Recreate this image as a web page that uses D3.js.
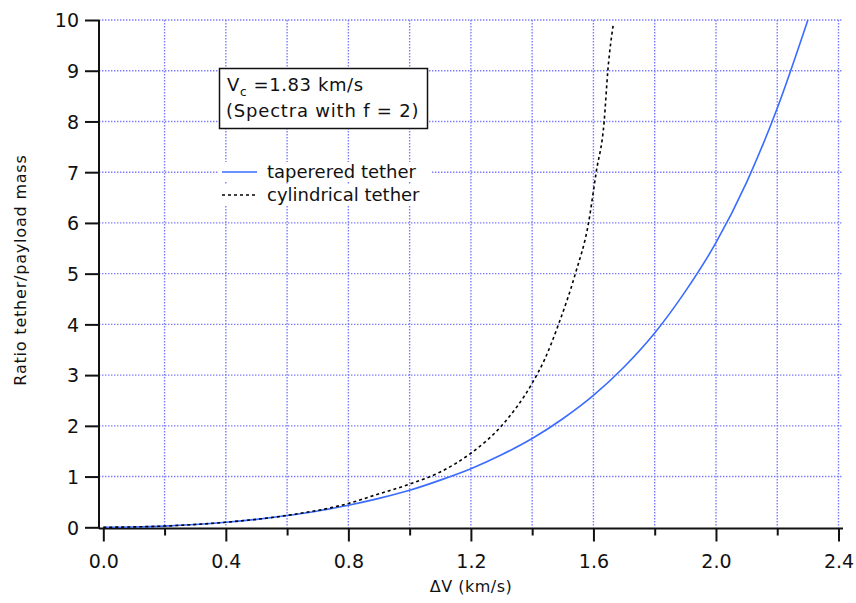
<!DOCTYPE html>
<html>
<head>
<meta charset="utf-8">
<script src="https://cdn.jsdelivr.net/npm/d3@7"></script>
<style>
    body { margin: 0; background: #fff; }
    text { font-family: "DejaVu Sans", sans-serif; fill: #111; }
</style>
</head>
<body>
<script>
// values
const taperedDv = [0, 0.1, 0.2, 0.3, 0.4, 0.5, 0.6, 0.7, 0.8, 0.9, 1.0, 1.1, 1.2, 1.3, 1.4, 1.5, 1.6, 1.7, 1.8, 1.9, 2.0, 2.1, 2.2, 2.3];
const taperedRatio = [0, 0.006, 0.024, 0.055, 0.099, 0.157, 0.231, 0.322, 0.435, 0.57, 0.73, 0.93, 1.155, 1.43, 1.75, 2.14, 2.60, 3.16, 3.83, 4.65, 5.61, 6.8, 8.26, 10.0];

const cylDv = [0, 0.2, 0.4, 0.6, 0.8, 0.9, 1.0, 1.1, 1.2, 1.3, 1.4, 1.44, 1.486, 1.541, 1.584, 1.609, 1.635, 1.647, 1.665];
const cylRatio = [0, 0.025, 0.10, 0.235, 0.47, 0.66, 0.85, 1.09, 1.46, 2.0, 2.84, 3.3, 4.0, 5.0, 6.0, 7.0, 8.0, 9.0, 9.92];

const xTicks = [0, 0.4, 0.8, 1.2, 1.6, 2.0, 2.4];
const xMinorTicks = [0.2, 0.6, 1.0, 1.4, 1.8, 2.2];
const xGrid = [0.2, 0.4, 0.6, 0.8, 1.0, 1.2, 1.4, 1.6, 1.8, 2.0, 2.2, 2.4];
const yTicks = [0, 1, 2, 3, 4, 5, 6, 7, 8, 9, 10];

const legendItems = [
    {label: 'taperered tether', color: '#3a6cff', dash: null},
    {label: 'cylindrical tether', color: '#000', dash: '3,3'}
];

const width = 856;
const height = 603;

const svg = d3.select('body')
    .append('svg')
    .attr('width', width)
    .attr('height', height);

const x = d3.scaleLinear().domain([0, 2.4]).range([103.3, 838.5]);
const y = d3.scaleLinear().domain([0, 10]).range([527.3, 20]);

// dotted blue grid
const grid = svg.append('g')
    .attr('stroke', '#7a7aff')
    .attr('stroke-width', 1.4)
    .attr('stroke-dasharray', '1.4,1.6');

grid.selectAll('.vgrid')
    .data(xGrid)
    .enter()
    .append('line')
    .attr('x1', d => x(d)).attr('x2', d => x(d))
    .attr('y1', y(10)).attr('y2', y(0));

grid.selectAll('.hgrid')
    .data(yTicks.filter(d => d > 0))
    .enter()
    .append('line')
    .attr('x1', 99).attr('x2', 843)
    .attr('y1', d => y(d)).attr('y2', d => y(d));

// axes
const xAxis = svg.append('g')
    .attr('transform', `translate(0, ${y(0) + 1.2})`)
    .call(d3.axisBottom(x).tickValues(xTicks).tickFormat(d3.format('.1f')).tickSize(13).tickSizeOuter(0));

svg.append('g')
    .attr('transform', `translate(0, ${y(0) + 1.2})`)
    .call(d3.axisBottom(x).tickValues(xMinorTicks).tickFormat('').tickSize(7).tickSizeOuter(0))
    .select('.domain').remove();

const yAxis = svg.append('g')
    .attr('transform', 'translate(99, 0)')
    .call(d3.axisLeft(y).tickValues(yTicks).tickFormat(d3.format('d')).tickSize(14).tickSizeOuter(0));

xAxis.select('.domain').attr('d', `M${99},0H${843}`);
yAxis.select('.domain').attr('d', `M0,${y(10)}V${y(0) + 1.2}`);

svg.selectAll('.domain, .tick line')
    .attr('stroke', '#111')
    .attr('stroke-width', 2);

xAxis.selectAll('.tick text')
    .attr('dy', 0)
    .attr('y', 39)
    .style('font-size', '19px')
    .style('font-family', '"DejaVu Sans", sans-serif');

yAxis.selectAll('.tick text')
    .attr('x', -20)
    .attr('dy', '0.36em')
    .style('font-size', '19px')
    .style('font-family', '"DejaVu Sans", sans-serif');

// curves
const line = d3.line()
    .x(d => x(d[0]))
    .y(d => y(d[1]))
    .curve(d3.curveMonotoneX);

svg.append('path')
    .datum(taperedDv.map((d, i) => [d, taperedRatio[i]]))
    .attr('fill', 'none')
    .attr('stroke', legendItems[0].color)
    .attr('stroke-width', 1.6)
    .attr('d', line);

svg.append('path')
    .datum(cylDv.map((d, i) => [d, cylRatio[i]]))
    .attr('fill', 'none')
    .attr('stroke', legendItems[1].color)
    .attr('stroke-width', 1.6)
    .attr('stroke-dasharray', legendItems[1].dash)
    .attr('d', line);

// annotation box
const note = svg.append('g');
note.append('rect')
    .attr('x', 219.5).attr('y', 68.5)
    .attr('width', 208).attr('height', 60)
    .attr('fill', '#fff')
    .attr('stroke', '#111')
    .attr('stroke-width', 1.5);

const line1 = note.append('text')
    .attr('x', 227).attr('y', 91)
    .style('font-size', '18px')
    .style('letter-spacing', '0.6px');
line1.append('tspan').text('V');
line1.append('tspan').attr('dy', 5).style('font-size', '12px').text('c');
line1.append('tspan').attr('dy', -5).text(' =1.83 km/s');

note.append('text')
    .attr('x', 226).attr('y', 117)
    .style('font-size', '18px')
    .style('letter-spacing', '0.8px')
    .text('(Spectra with f = 2)');

// legend
const legend = svg.append('g')
    .selectAll('g')
    .data(legendItems)
    .enter()
    .append('g')
    .attr('transform', (d, i) => `translate(222, ${172 + i * 23})`);

legend.append('rect')
    .attr('x', -4).attr('y', -10)
    .attr('width', 214).attr('height', 20)
    .attr('fill', '#fff');

legend.append('line')
    .attr('x1', 0).attr('x2', 35)
    .attr('stroke', d => d.color)
    .attr('stroke-width', 1.6)
    .attr('stroke-dasharray', d => d.dash);

legend.append('text')
    .attr('x', 45).attr('y', 6)
    .style('font-size', '18px')
    .text(d => d.label);

// axis titles
svg.append('text')
    .attr('x', 471).attr('y', 592)
    .attr('text-anchor', 'middle')
    .style('font-size', '16px')
    .style('letter-spacing', '0.5px')
    .text('\u0394V (km/s)');

svg.append('text')
    .attr('transform', 'translate(26, 270) rotate(-90)')
    .attr('text-anchor', 'middle')
    .style('font-size', '16px')
    .style('letter-spacing', '0.8px')
    .text('Ratio tether/payload mass');
</script>
</body>
</html>
